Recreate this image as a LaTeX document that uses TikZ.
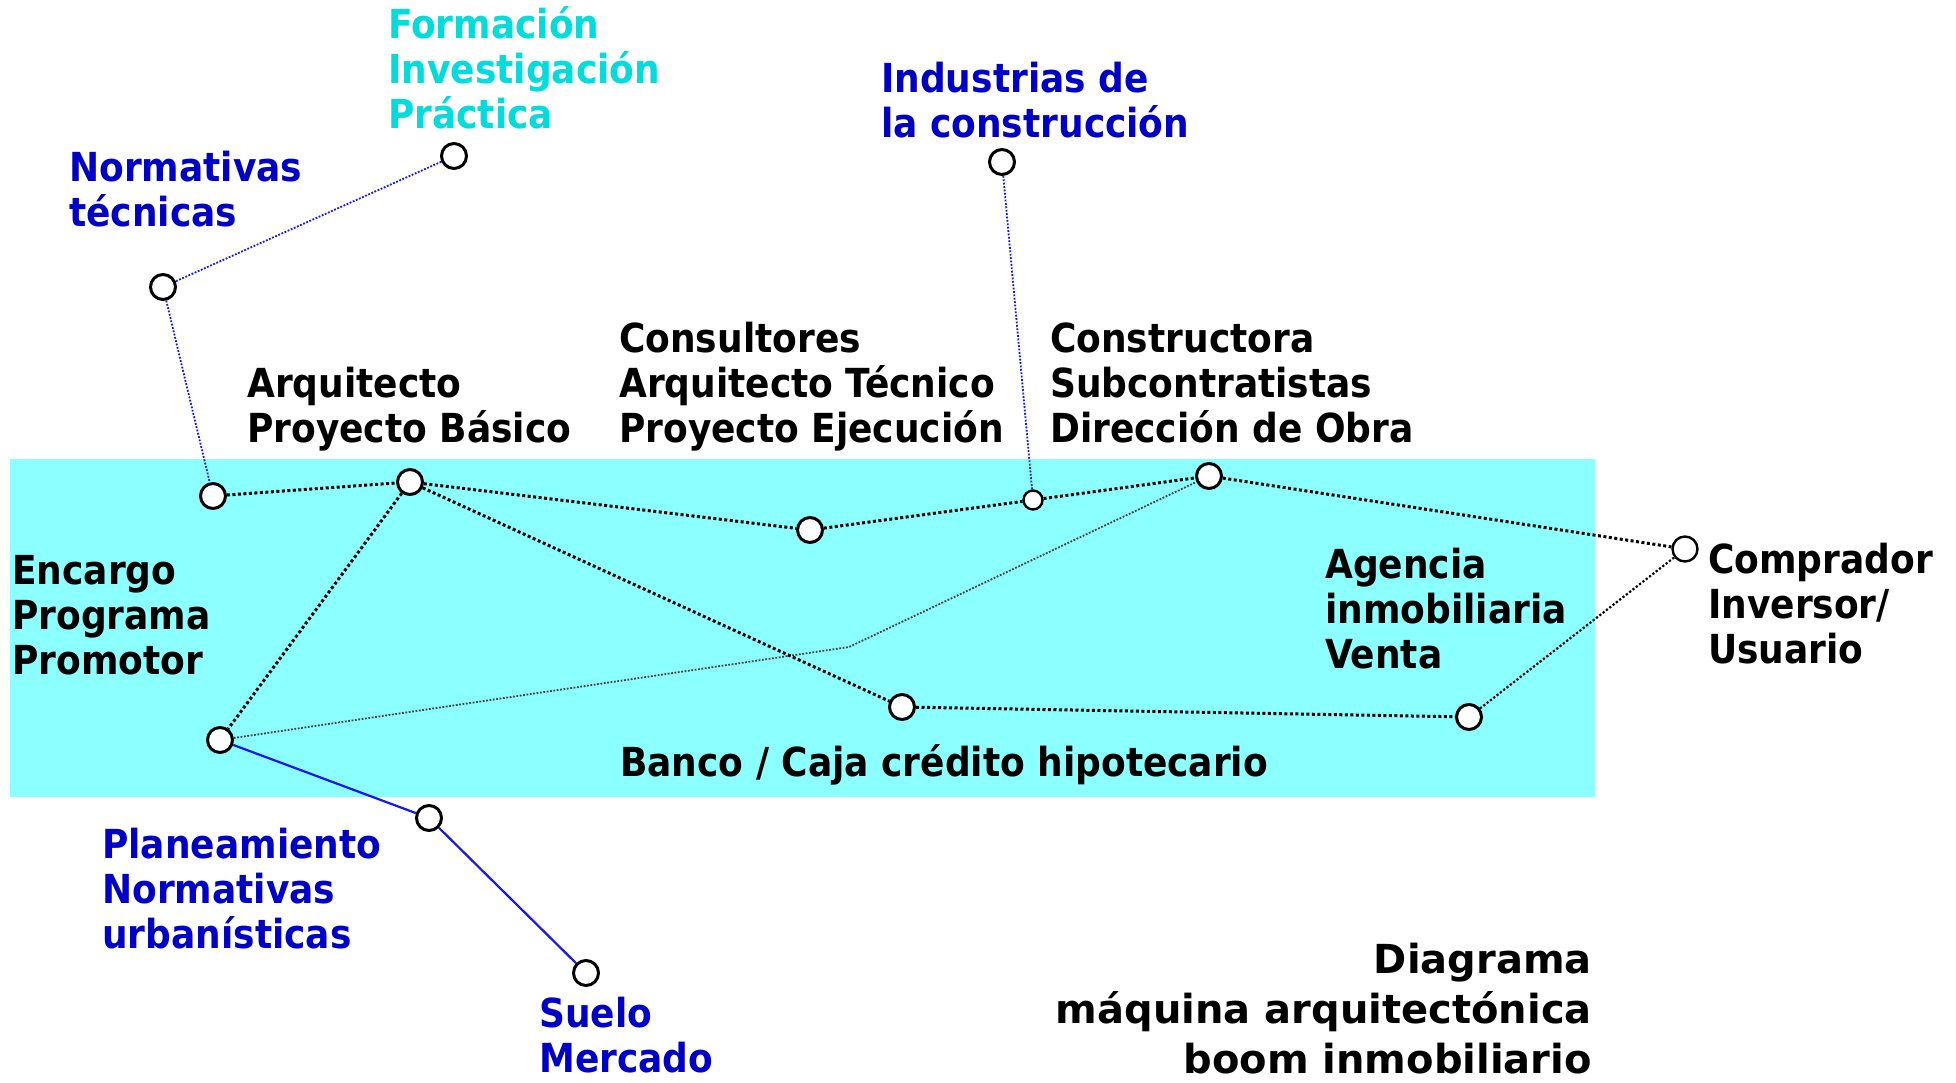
\documentclass[tikz,border=0pt]{standalone}
\usepackage{fontspec}
\newfontfamily\lblfont{DejaVu Sans Condensed Bold}
\newfontfamily\titfont{DejaVu Sans Bold}
\usepackage{tikz}
\usetikzlibrary{positioning}
\definecolor{zona}{RGB}{140,255,255}
\definecolor{azul}{RGB}{0,0,200}
\definecolor{cian}{RGB}{0,220,220}
\definecolor{linea}{RGB}{20,20,255}
\pgfdeclarelayer{fondo}
\pgfdeclarelayer{lineas}
\pgfsetlayers{fondo,lineas,main}

\begin{document}
\begin{tikzpicture}[x=1pt,y=-1pt,
    punto/.style={circle,draw,fill=white,line width=3pt,minimum size=25pt,inner sep=0pt},
    puntito/.style={punto,line width=2.4pt,minimum size=19pt},
    etiqueta/.style={anchor=base west,align=left,inner sep=0pt,font=\lblfont\fontsize{40}{45}\selectfont},
    enlace/.style={line width=3pt,dash pattern=on 3pt off 2.5pt},
    fino/.style={line width=1.8pt,black!75,dash pattern=on 1.8pt off 1.6pt},
    azulfino/.style={line width=1.8pt,linea,dash pattern=on 1.8pt off 1.6pt},
    azulsolido/.style={line width=2.2pt,linea}]
    \useasboundingbox (0,0) rectangle (1956,1083);
    %% zona
    \begin{pgfonlayer}{fondo}
    \fill[zona] (10,459) rectangle (1595,797);
    \end{pgfonlayer}
    %% textos (base = ultima linea)
    \node[etiqueta,text=cian] (tform) at (388,129) {Formación\\Investigación\\Práctica};
    \node[etiqueta,text=azul] (tnorm) at (69,227) {Normativas\\técnicas};
    \node[etiqueta,text=azul] (tind) at (881,138) {Industrias de\\la construcción};
    \node[etiqueta] (tarq) at (247,442) {Arquitecto\\Proyecto Básico};
    \node[etiqueta] (tcons) at (619,442) {Consultores\\Arquitecto Técnico\\Proyecto Ejecución};
    \node[etiqueta] (tconstr) at (1050,442) {Constructora\\Subcontratistas\\Dirección de Obra};
    \node[etiqueta] (tenc) at (12,674) {Encargo\\Programa\\Promotor};
    \node[etiqueta] (tagen) at (1325,668) {Agencia\\inmobiliaria\\Venta};
    \node[etiqueta] (tcomp) at (1708,663) {Comprador\\Inversor/\\Usuario};
    \node[etiqueta] (tbanco) at (620,776) {Banco / Caja crédito hipotecario};
    \node[etiqueta,text=azul] (tplan) at (102,948) {Planeamiento\\Normativas\\urbanísticas};
    \node[etiqueta,text=azul] (tsuelo) at (539,1072) {Suelo\\Mercado};
    \node[anchor=base east,align=right,inner sep=0pt,font=\titfont\fontsize{40}{50}\selectfont] (ttit) at (1592,1073) {Diagrama\\máquina arquitectónica\\boom inmobiliario};
    %% nodos
    \node[punto] (form) at (454,156) {};
    \node[punto] (norm) at (163,287) {};
    \node[punto] (ind) at (1002,162) {};
    \node[punto] (enc) at (213,496) {};
    \node[punto] (arq) at (410,482) {};
    \node[punto] (cons) at (810,530) {};
    \node[puntito] (obra) at (1033,500) {};
    \node[punto] (constr) at (1209,476) {};
    \node[punto,line width=2.4pt] (comp) at (1685,549) {};
    \node[punto] (prom) at (220,740) {};
    \node[punto] (banco) at (902,707) {};
    \node[punto] (agen) at (1469,717) {};
    \node[punto] (plan) at (429,818) {};
    \node[punto] (suelo) at (586,973) {};
    \coordinate (codo) at (849,647);
    %% conexiones
    \begin{pgfonlayer}{lineas}
    \draw[azulfino] (form) -- (norm) -- (enc);
    \draw[azulfino] (ind) -- (obra);
    \draw[fino] (prom) -- (codo) -- (constr);
    \draw[enlace] (enc) -- (arq) -- (cons) -- (obra) -- (constr) -- (comp);
    \draw[enlace] (arq) -- (prom);
    \draw[enlace] (arq) -- (banco) -- (agen);
    \draw[enlace,line width=2.2pt,dash pattern=on 2.2pt off 2pt] (agen) -- (comp);
    \draw[azulsolido] (prom) -- (plan) -- (suelo);
    \end{pgfonlayer}
\end{tikzpicture}
\end{document}
